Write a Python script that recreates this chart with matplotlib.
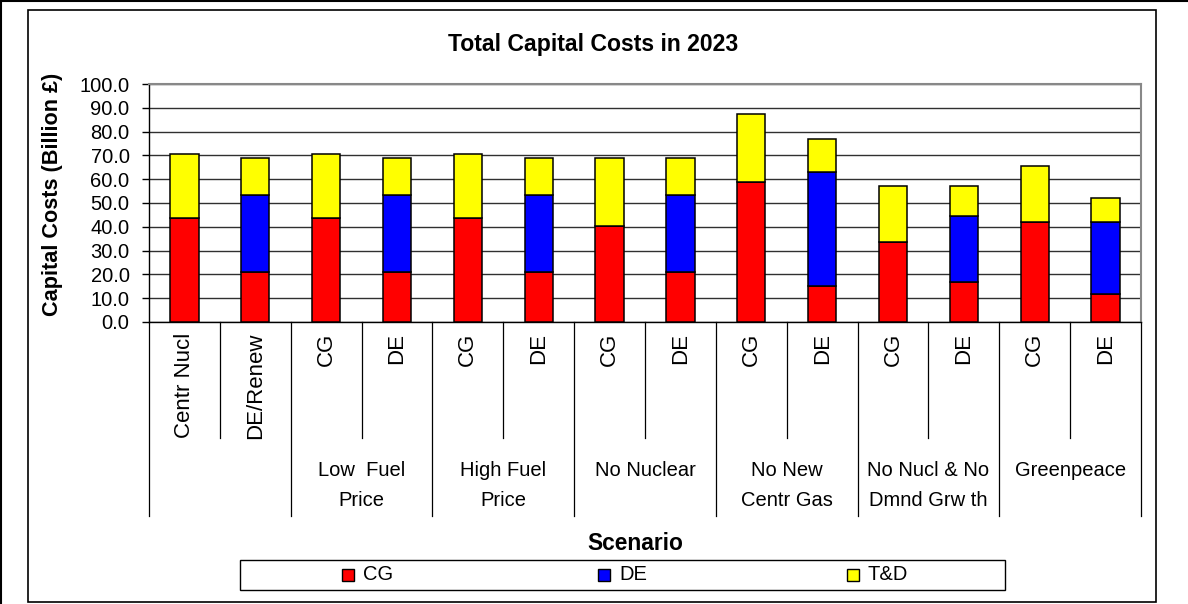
import numpy as np
import matplotlib
matplotlib.use("Agg")
import matplotlib.pyplot as plt
from matplotlib.patches import Rectangle
from matplotlib.lines import Line2D
from matplotlib.transforms import blended_transform_factory

plt.rcParams['font.family'] = ['Liberation Sans', 'DejaVu Sans']

# ---- data ----
categories = ['Centr Nucl', 'DE/Renew', 'CG', 'DE', 'CG', 'DE', 'CG', 'DE',
              'CG', 'DE', 'CG', 'DE', 'CG', 'DE']
groups = ['', 'Low  Fuel\nPrice', 'High Fuel\nPrice', 'No Nuclear',
          'No New\nCentr Gas', 'No Nucl & No\nDmnd Grw th', 'Greenpeace']
group_sizes = [2, 2, 2, 2, 2, 2, 2]
series_names = ['CG', 'DE', 'T&D']
cg = [43.7, 21.0, 43.7, 21.0, 43.7, 21.0, 40.3, 21.0, 58.8, 15.1, 33.7, 16.8, 42.1, 11.8]
de = [0.0, 32.2, 0.0, 32.2, 0.0, 32.2, 0.0, 32.2, 0.0, 48.1, 0.0, 27.9, 0.0, 30.3]
td = [26.9, 15.7, 26.9, 15.7, 26.9, 15.7, 28.6, 15.7, 28.7, 13.5, 23.6, 12.6, 23.6, 10.1]
colors = ['#FF0000', '#0000FF', '#FFFF00']
yticks = np.arange(0, 101, 10)

W, H = 1188, 604
def fx(x): return x / W
def fy(y): return 1 - y / H

fig = plt.figure(figsize=(W / 100, H / 100), dpi=100)
fig.patch.set_facecolor('white')

# chart border and outer frame
fig.add_artist(Rectangle((fx(28), fy(602)), fx(1156) - fx(28), fy(10) - fy(602),
                         transform=fig.transFigure, fill=False, edgecolor='black', lw=1.2))
fig.add_artist(Line2D([fx(1), fx(1)], [0, 1], transform=fig.transFigure, color='black', lw=1.5))
fig.add_artist(Line2D([0, 1], [fy(1), fy(1)], transform=fig.transFigure, color='black', lw=1.5))

ax = fig.add_axes([fx(149), fy(322), fx(1141) - fx(149), fy(84) - fy(322)])
x = np.arange(len(categories))
cg_a, de_a, td_a = np.array(cg), np.array(de), np.array(td)
bw = 0.4
ax.bar(x, cg_a, width=bw, color=colors[0], edgecolor='black', lw=1.1, zorder=3)
ax.bar(x, de_a, width=bw, bottom=cg_a, color=colors[1], edgecolor='black', lw=1.1, zorder=3)
ax.bar(x, td_a, width=bw, bottom=cg_a + de_a, color=colors[2], edgecolor='black', lw=1.1, zorder=3)

ax.set_xlim(-0.5, len(categories) - 0.5)
ax.set_ylim(0, 100)
ax.set_yticks(yticks)
ax.set_yticklabels([f'{v:.1f}' for v in yticks], fontsize=14.5)
ax.tick_params(axis='y', direction='out', length=5, width=1, pad=9, colors='black')
ax.set_xticks([])
ax.yaxis.grid(True, color='#303030', lw=1)
ax.set_axisbelow(True)
for s in ['left', 'bottom']:
    ax.spines[s].set_color('black')
    ax.spines[s].set_linewidth(1.0)
for s in ['top', 'right']:
    ax.spines[s].set_color('#888888')
    ax.spines[s].set_linewidth(1.5)

# multi-level category axis
tr = blended_transform_factory(ax.transData, ax.transAxes)
inner_y = (322 - 438) / 238
outer_y = (322 - 516) / 238
bounds = np.cumsum([0] + group_sizes) - 0.5
for b in np.arange(-0.5, len(categories), 1.0):
    y_end = outer_y if np.any(np.isclose(bounds, b)) else inner_y
    ax.plot([b, b], [0, y_end], transform=tr, clip_on=False, color='black', lw=0.9)
for i, lab in enumerate(categories):
    ax.text(i, (322 - 333) / 238, lab, transform=tr, rotation=90, ha='center', va='top',
            fontsize=16)
for g, name in enumerate(groups):
    c = (bounds[g] + bounds[g + 1]) / 2
    ax.text(c, (322 - 461) / 238, name, transform=tr, ha='center', va='top',
            fontsize=14.5, linespacing=1.72, multialignment='center')

# titles
fig.text(fx(593), fy(44), 'Total Capital Costs in 2023', ha='center', va='center',
         fontsize=16.6, fontweight='bold')
fig.text(fx(53), fy(194), 'Capital Costs (Billion £)', rotation=90, ha='center', va='center',
         fontsize=15.6, fontweight='bold')
fig.text(fx(635), fy(543), 'Scenario', ha='center', va='center', fontsize=16.4, fontweight='bold')

# legend box (centered entries in three columns)
lx0, lx1, ly0, ly1 = 240, 1005, 560, 590
fig.add_artist(Rectangle((fx(lx0), fy(ly1)), fx(lx1) - fx(lx0), fy(ly0) - fy(ly1),
                         transform=fig.transFigure, fill=True, facecolor='white',
                         edgecolor='black', lw=1.0))
renderer = fig.canvas.get_renderer()
colw = (lx1 - lx0) / len(series_names)
ymid = (ly0 + ly1) / 2
for k, (name, col) in enumerate(zip(series_names, colors)):
    t = fig.text(0, fy(ymid), name, ha='left', va='center', fontsize=14.5)
    w = t.get_window_extent(renderer).width
    sq, gap = 12, 9
    total = sq + gap + w
    cx = lx0 + (k + 0.5) * colw
    left = cx - total / 2
    t.set_x(fx(left + sq + gap))
    fig.add_artist(Rectangle((fx(left), fy(ymid + sq / 2)), fx(sq), sq / H,
                             transform=fig.transFigure, facecolor=col, edgecolor='black', lw=1.0))

fig.savefig('out.png', dpi=100)
